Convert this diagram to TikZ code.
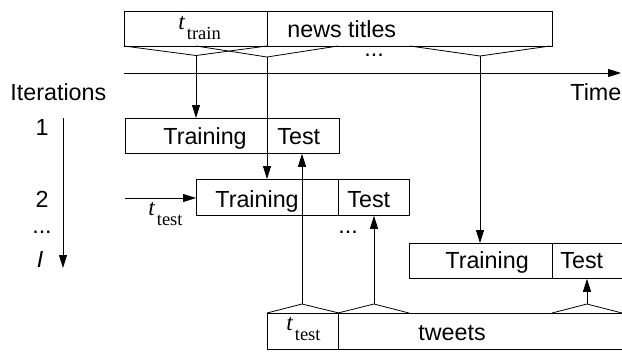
\documentclass[tikz,border=0pt]{standalone}
\usepackage{fontspec}
\setmainfont{Liberation Sans}
\newfontfamily\seriffont{Liberation Serif}
\usetikzlibrary{arrows.meta}
\newcommand{\tlab}[1]{{\seriffont\itshape t}\hspace{2bp}\raisebox{-10bp}{\seriffont\fontsize{18.5bp}{18.5bp}\selectfont #1}}
\begin{document}
\begin{tikzpicture}[x=1bp,y=-1bp, line width=0.8bp,
  box/.style={draw, rectangle, inner sep=0pt, anchor=north west, minimum height=35bp},
  lbl/.style={inner sep=0pt, anchor=base west, font=\fontsize{23.3bp}{28bp}\selectfont},
  clbl/.style={lbl, anchor=base},
  dots/.style={clbl, text height=3bp, text depth=0bp},
  arr/.style={-{Triangle[length=13bp,width=8bp]}}]
\clip (0,0) rectangle (622,351);
% boxes
\node[box, minimum width=143bp] (tt) at (124,11) {};
\node[box, minimum width=285bp] (nt) at (267,11) {};
\node[box, minimum width=142bp] (tr1) at (125,118) {};
\node[box, minimum width=72bp] (te1) at (267,118) {};
\node[box, minimum width=142bp, minimum height=36bp] (tr2) at (196,179) {};
\node[box, minimum width=71bp, minimum height=36bp] (te2) at (338,179) {};
\node[box, minimum width=143bp] (tr3) at (409,243) {};
\node[box, minimum width=80bp] (te3) at (552,243) {};
\node[box, minimum width=71bp, minimum height=36bp] (tw1) at (267,313) {};
\node[box, minimum width=300bp, minimum height=36bp] (tw2) at (338,313) {};
% texts
\node[lbl] (itl) at (10,100) {Iterations};
\node[lbl] (tml) at (570,100) {Time};
\node[clbl] (n1) at (42,135) {1};
\node[clbl] (n2) at (42,207) {2};
\node[dots] (nd) at (42,233) {...};
\node[clbl] (nI) at (40,267) {\itshape I};
\node[lbl] (ltr1) at (163,144) {Training};
\node[lbl] (lte1) at (277,144) {Test};
\node[lbl] (ltr2) at (215,207) {Training};
\node[lbl] (lte2) at (347,207) {Test};
\node[lbl] (ltr3) at (445,268) {Training};
\node[lbl] (lte3) at (560,268) {Test};
\node[lbl] (ltw) at (418,340) {tweets};
\node[lbl] (lnt) at (287,37) {news titles};
\node[dots] (d1) at (374,56) {...};
\node[dots] (d2) at (348,233) {...};
\node[lbl] (ttr) at (178,29) {\tlab{train}};
\node[lbl] (tte1) at (286,330) {\tlab{test}};
\node[lbl] (tte2) at (148,215) {\tlab{test}};
% time axis
\coordinate (ta) at (124,73);
\coordinate (tb) at (621,73);
\draw[arr] (ta) -- (tb);
% iteration axis
\coordinate (ia) at (63,118);
\coordinate (ib) at (63,268);
\draw[arr] (ia) -- (ib);
% V shapes under news titles
\coordinate (va1) at (196,55.5);
\coordinate (va2) at (267,57);
\coordinate (va3) at (480,56);
\draw (124,46) -- (va1) -- (267,46);
\draw (196,46) -- (va2) -- (338,46);
\draw (410,46) -- (va3) -- (550,46);
% V shapes above tweets
\coordinate (vb1) at (302,304);
\coordinate (vb2) at (374,304);
\coordinate (vb3) at (587,304);
\draw (tw1.north west) -- (vb1) -- (tw1.north east);
\draw (338,313) -- (vb2) -- (409,313);
\draw (552,313) -- (vb3) -- (622,313);
% arrows
\draw[arr] (va1) -- (va1 |- tr1.north);
\draw[arr] (va2) -- (va2 |- tr2.north);
\draw[arr] (va3) -- (va3 |- tr3.north);
\draw[arr] (vb1) -- (vb1 |- te1.south);
\draw[arr] (vb2) -- (vb2 |- te2.south);
\draw[arr] (vb3) -- (vb3 |- te3.south);
\coordinate (la) at (125,198);
\draw[arr] (la) -- (la -| tr2.west);
\end{tikzpicture}
\end{document}
